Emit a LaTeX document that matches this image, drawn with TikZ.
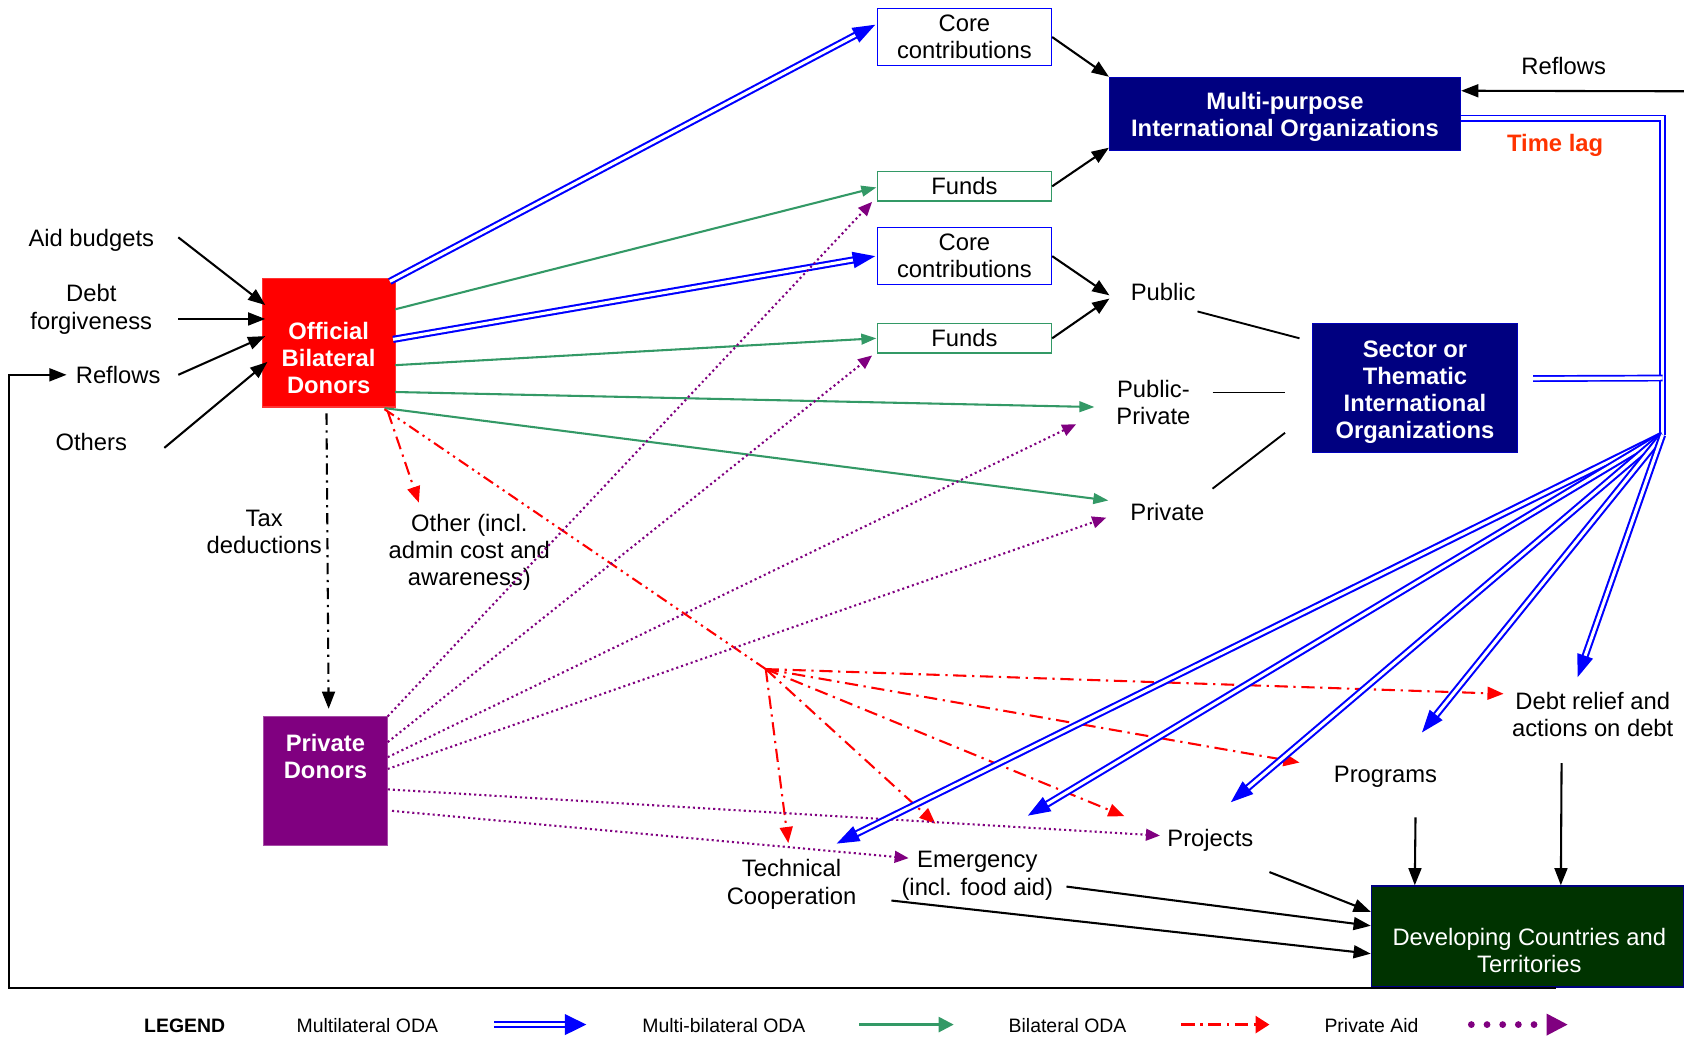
\documentclass[tikz,border=0pt]{standalone}
\usepackage{fontspec}
\setmainfont{Liberation Sans}
\usetikzlibrary{arrows.meta,calc}
\definecolor{sgreen}{HTML}{339966}
\definecolor{navyb}{HTML}{000080}
\definecolor{purp}{HTML}{800080}
\definecolor{devg}{HTML}{003300}
\definecolor{lagred}{HTML}{FF3300}
\newcommand{\mainfs}{\fontsize{12.6pt}{14.4pt}\selectfont}
\newcommand{\legfs}{\fontsize{10.3pt}{12pt}\selectfont}
\begin{document}
\begin{tikzpicture}[x=0.02cm,y=-0.02cm,
  every node/.style={font=\mainfs, align=center, inner sep=0pt},
  cbox/.style={draw=blue, line width=0.8pt, fill=white, minimum width=3.24cm, minimum height=1.06cm},
  fbox/.style={draw=sgreen, line width=0.8pt, fill=white, minimum width=3.24cm, minimum height=0.55cm},
  nbox/.style={fill=navyb, draw=blue!45!navyb, line width=0.6pt},
  wtxt/.style={text=white, font=\mainfs\bfseries},
  leg/.style={font=\legfs},
  mlt/.style={draw=blue, line width=1.1pt, double=white, double distance=1.6pt, -{Triangle[length=0.42cm,width=0.3cm]}},
  mltl/.style={draw=blue, line width=0.9pt, double=white, double distance=1.8pt},
  mbl/.style={draw=sgreen, line width=1.1pt, -{Triangle[length=0.28cm,width=0.2cm]}},
  bil/.style={draw=red, line width=1.1pt, dash pattern=on 7pt off 3pt on 1.2pt off 3pt, -{Triangle[length=0.3cm,width=0.24cm]}},
  bilhub/.style={draw=red, line width=1.1pt, dash pattern=on 6pt off 2.5pt on 1.2pt off 2.5pt on 1.2pt off 2.5pt},
  pvt/.style={draw=purp, line width=1.1pt, dash pattern=on 1.1pt off 1.6pt, -{Triangle[length=0.26cm,width=0.22cm]}},
  blk/.style={draw=black, line width=1.1pt, -{Triangle[length=0.32cm,width=0.24cm]}},
  taxarr/.style={draw=black, line width=1.1pt, dash pattern=on 6pt off 3pt on 1.2pt off 3pt, -{Triangle[length=0.32cm,width=0.24cm]}},
  plainl/.style={draw=black, line width=1pt},
  mltleg/.style={draw=blue, line width=1.3pt, double=white, double distance=1.5pt, -{Triangle[length=0.4cm,width=0.38cm]}},
  mblleg/.style={draw=sgreen, line width=1.3pt, -{Triangle[length=0.28cm,width=0.28cm]}},
  billeg/.style={draw=red, line width=1.3pt, dash pattern=on 7pt off 3pt on 1.2pt off 3pt, -{Triangle[length=0.26cm,width=0.32cm]}},
  pvtleg/.style={draw=purp, line width=3.6pt, line cap=round, dash pattern=on 0pt off 8.3pt, -{Triangle[length=0.4cm,width=0.38cm]}},
]
\fill[white] (0,0) rectangle (1568,966);
\useasboundingbox (0,0) rectangle (1568,966);

% ---- boxes ----
\node[cbox] (core1) at (898,34.5) {Core\\contributions};
\node[fbox] (funds1) at (898,173.5) {Funds};
\node[cbox] (core2) at (898,238.5) {Core\\contributions};
\node[fbox] (funds2) at (898,315) {Funds};
\node[nbox, minimum width=6.54cm, minimum height=1.36cm] (mpio) at (1196.5,106) {};
\node[wtxt] (mpiot) at (1196.5,109) {Multi-purpose\\International Organizations};
\node[nbox, minimum width=3.82cm, minimum height=2.4cm] (stio) at (1317.5,361.5) {};
\node[wtxt] (stiot) at (1317.5,365) {Sector or\\Thematic\\International\\Organizations};
\node[fill=red, draw=red!80!white, line width=0.6pt, minimum width=2.48cm, minimum height=2.4cm] (obd) at (306,319) {};
\node[wtxt] (obdt) at (306,333.5) {Official\\Bilateral\\Donors};
\node[fill=purp, draw=purp!70!white, line width=0.6pt, minimum width=2.32cm, minimum height=2.4cm] (pd) at (303,727) {};
\node[wtxt] (pdt) at (303,704) {Private\\Donors};
\node[fill=devg, draw=navyb, line width=0.8pt, minimum width=5.82cm, minimum height=1.88cm] (dev) at (1422.5,872) {};
\node[text=white] (devt) at (1424,885) {Developing Countries and\\Territories};

% ---- labels ----
\node (aid) at (85,224) {Aid budgets};
\node (debtf) at (85,288) {Debt\\forgiveness};
\node (refl) at (110,349) {Reflows};
\node (others) at (85,412) {Others};
\node (tax) at (246,495) {Tax\\deductions};
\node (other) at (437,514) {Other (incl.\\admin cost and\\awareness)};
\node (public) at (1083,272) {Public};
\node (pubpriv) at (1074,374.5) {Public-\\Private};
\node (private) at (1087,477) {Private};
\node (reflR) at (1456,61) {Reflows};
\node[text=lagred, font=\mainfs\bfseries] (timelag) at (1448,135) {Time lag};
\node (techcoop) at (737,823.5) {Technical\\Cooperation};
\node (emerg) at (910,815.5) {Emergency\\(incl. food aid)};
\node (projects) at (1127,782) {Projects};
\node (programs) at (1290,723) {Programs};
\node (debtr) at (1483,665.5) {Debt relief and\\actions on debt};

\coordinate (hub) at (713,623);
\coordinate (fan) at (1548,405);

% ---- inputs to official donors ----
\draw[blk] ($(aid)+(81,-3)$) -- ($(obd)+(-59,-35)$);
\draw[blk] ($(debtf)+(81,9)$) -- ($(obd)+(-59,-22)$);
\draw[blk] ($(refl)+(56,0)$) -- ($(obd)+(-59,-6)$);
\draw[blk] ($(others)+(68,5)$) -- ($(obd)+(-57,18)$);
\draw[blk] ($(dev.south)+(26,0)$) -| ($(refl)+(-102,0)$) -- ($(refl)+(-48,0)$);

% ---- multilateral from official donors ----
\draw[mlt] ($(obd)+(57,-57)$) -- ($(core1)+(-83,-11.5)$);
\draw[mlt] ($(obd)+(60,-3)$) -- ($(core2)+(-83,0)$);

% ---- multi-bilateral (green) ----
\draw[mbl] ($(obd)+(62,-31)$) -- ($(funds1)+(-82,1)$);
\draw[mbl] ($(obd)+(62,21)$) -- ($(funds2)+(-82,0)$);
\draw[mbl] ($(obd)+(62,46)$) -- ($(pubpriv)+(-55,4.5)$);
\draw[mbl] ($(obd)+(52,61)$) -- ($(private)+(-55,-11)$);

% ---- bilateral (red) ----
\draw[bilhub] ($(obd)+(52,62)$) -- (hub);
\draw[bil] ($(obd)+(55,64)$) -- ($(other)+(-47,-46)$);
\draw[bil] (hub) -- ($(techcoop)+(-3,-38.5)$);
\draw[bil] (hub) -- ($(emerg)+(-39,-48.5)$);
\draw[bil] (hub) -- ($(projects)+(-80,-22)$);
\draw[bil] (hub) -- ($(programs)+(-80,-13)$);
\draw[bil] (hub) -- ($(debtr)+(-83,-19.5)$);

% ---- tax deductions ----
\draw[taxarr] ($(obd)+(-2,66)$) -- ($(pd)+(3,-67)$);

% ---- private aid (purple) ----
\draw[pvt] ($(pd)+(58,-60)$) -- ($(funds1)+(-86,14.5)$);
\draw[pvt] ($(pd)+(58,-36)$) -- ($(funds2)+(-86,16)$);
\draw[pvt] ($(pd)+(58,-22)$) -- ($(pubpriv)+(-72,20.5)$);
\draw[pvt] ($(pd)+(58,-11)$) -- ($(private)+(-57,5)$);
\draw[pvt] ($(pd)+(58,8)$) -- ($(projects)+(-47,-4)$);
\draw[pvt] ($(pd)+(62,28)$) -- ($(emerg)+(-64,-16.5)$);

% ---- to international organisations ----
\draw[blk] (core1.east) -- (mpio.north west);
\draw[blk] (funds1.east) -- ($(mpio.south west)+(0,-3)$);
\draw[blk] (core2.east) -- ($(public)+(-50,3)$);
\draw[blk] (funds2.east) -- ($(public)+(-50,6)$);
\draw[plainl] ($(public)+(32,18)$) -- ($(stio)+(-107.5,-46.5)$);
\draw[plainl] ($(pubpriv)+(55,-9)$) -- ($(stio)+(-121,4)$);
\draw[plainl] ($(private)+(42,-22)$) -- ($(stio)+(-121,41.5)$);
\draw[blk] ($(reflR)+(112,24)$) -- ($(mpio.north east)+(0,13)$);

% ---- multilateral disbursements ----
\draw[mltl] ($(mpio.east)+(0,4)$) -| (fan);
\draw[mltl] ($(stio.east)+(14,-9)$) -- ($(fan)+(0,-53)$);
\draw[mlt] (fan) -- ($(techcoop)+(42,-38)$);
\draw[mlt] (fan) -- ($(emerg)+(47,-56)$);
\draw[mlt] (fan) -- ($(projects)+(19,-35)$);
\draw[mlt] (fan) -- ($(programs)+(34,-41)$);
\draw[mlt] (fan) -- ($(debtr)+(-14,-35)$);

% ---- to developing countries ----
\draw[blk] ($(programs)+(28,38)$) -- ($(dev.north west)+(41,0)$);
\draw[blk] ($(debtr)+(-29,45)$) -- ($(dev.north west)+(177,0)$);
\draw[blk] ($(projects)+(55,30)$) -- ($(dev.west)+(0,-23)$);
\draw[blk] ($(emerg)+(83,10)$) -- ($(dev.west)+(0,-10)$);
\draw[blk] ($(techcoop)+(93,15)$) -- ($(dev.west)+(0,16)$);

% ---- legend ----
\node[font=\legfs\bfseries] (legend) at (172,955) {LEGEND};
\node[leg] (lmul) at (342,955) {Multilateral ODA};
\draw[mltleg] ($(lmul)+(118,-1)$) -- ($(lmul)+(204,-1)$);
\node[leg] (lmb) at (674,955) {Multi-bilateral ODA};
\draw[mblleg] ($(lmb)+(126,-1)$) -- ($(lmb)+(214,-1)$);
\node[leg] (lbil) at (994,955) {Bilateral ODA};
\draw[billeg] ($(lbil)+(106,-1)$) -- ($(lbil)+(188,-1)$);
\node[leg] (lpvt) at (1277,955) {Private Aid};
\draw[pvtleg] ($(lpvt)+(93,-1)$) -- ($(lpvt)+(183,-1)$);
\end{tikzpicture}
\end{document}
